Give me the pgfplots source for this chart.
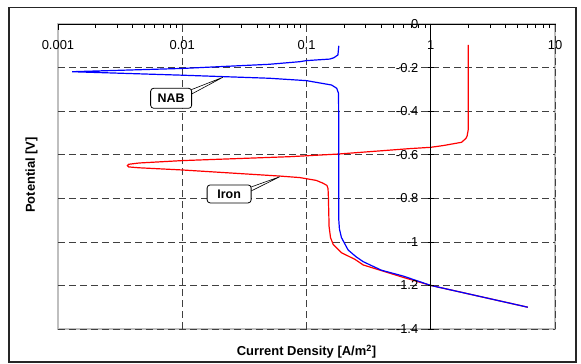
\documentclass[border=0pt]{standalone}
\usepackage{pgfplots}
\pgfplotsset{compat=1.18}
\usepackage{fontspec}
\setmainfont{Liberation Sans}

\definecolor{gridgray}{gray}{0.25}

% Polarisation curves (potential vs. log current density)
\pgfplotstableread{
x y
0.182 -0.100
0.179 -0.142
0.166 -0.155
0.154 -0.161
0.100 -0.168
0.0885 -0.173
0.050 -0.185
0.010 -0.204
0.0013 -0.219
0.010 -0.235
0.050 -0.249
0.100 -0.260
0.159 -0.280
0.175 -0.295
0.181 -0.318
0.182 -0.500
0.182 -0.700
0.182 -0.900
0.184 -0.940
0.191 -0.980
0.216 -1.037
0.250 -1.068
0.286 -1.091
0.400 -1.130
0.600 -1.157
1.000 -1.200
2.000 -1.2385
6.040 -1.300
}\nabdata

\pgfplotstableread{
x y
2.00 -0.096
2.00 -0.487
1.96 -0.515
1.92 -0.525
1.77 -0.543
1.26 -0.558
1.00 -0.566
0.679 -0.572
0.179 -0.597
0.0735 -0.609
0.010 -0.627
0.0045 -0.638
0.0037 -0.644
0.00362 -0.650
0.0037 -0.656
0.0045 -0.660
0.010 -0.670
0.061 -0.698
0.0885 -0.705
0.120 -0.718
0.136 -0.731
0.146 -0.741
0.149 -0.755
0.150 -0.793
0.152 -0.930
0.156 -0.980
0.164 -1.012
0.191 -1.050
0.245 -1.080
0.286 -1.106
0.600 -1.163
1.000 -1.200
2.000 -1.2385
6.040 -1.300
}\irondata

\begin{document}
\begin{tikzpicture}[x=1bp,y=1bp]
\useasboundingbox (0,0) rectangle (581,363);
\draw[line width=1.5bp, black!85] (9,1) rectangle (576,355.3);

% potential axis title
\node[rotate=90, anchor=center, font=\bfseries\fontsize{13}{15}\selectfont]
  at (31.5,188) {Potential [V]};

% light frame of the plot area
\begin{axis}[
  at={(58bp,34bp)}, anchor=south west,
  scale only axis, width=497bp, height=305bp,
  xmode=log, xmin=0.001, xmax=10, ymin=-1.4, ymax=0,
  axis line style={gray!50, line width=1.2bp},
  xtick=\empty, ytick=\empty,
]
\end{axis}

% grid, top axis, curves and callouts
\begin{axis}[
  at={(58bp,34bp)}, anchor=south west,
  scale only axis, width=497bp, height=305bp,
  xmode=log, xmin=0.001, xmax=10, ymin=-1.4, ymax=0,
  axis x line*=top, axis y line*=left,
  x axis line style={black, line width=0.9bp, -},
  y axis line style={draw=none, -},
  xtick={0.001,0.01,0.1,1,10},
  xticklabels={0.001,0.01,0.1,1,10},
  extra x ticks={0.01,0.1,10},
  extra x tick labels={},
  extra x tick style={grid=major, major tick length=0pt},
  tick align=inside,
  major tick length=6bp, minor tick length=4bp,
  x tick style={black, line width=0.7bp},
  xticklabel style={anchor=north, yshift=-13.4bp, font=\fontsize{13}{15}\selectfont},
  ytick={-1.4,-1.2,-1,-0.8,-0.6,-0.4,-0.2,0},
  yticklabels={},
  ytick style={draw=none},
  ymajorgrids,
  major grid style={gridgray, dash pattern=on 7bp off 4bp, line width=0.7bp},
  xlabel={Current Density [A/m\textsuperscript{2}]},
  xlabel style={at={(rel axis cs:0.5,0)}, anchor=center, yshift=-23bp,
    font=\bfseries\fontsize{13}{15}\selectfont},
  clip=false,
]
\addplot[red, line width=1.2bp, no markers] table[x=x, y=y] {\irondata};
\addplot[blue, line width=1.2bp, no markers] table[x=x, y=y] {\nabdata};

% callout: NAB
\draw[black, fill=white, line width=0.6bp]
  (axis cs:0.01112,-0.3075) -- (axis cs:0.0212,-0.2447) -- (axis cs:0.01112,-0.3305);
\node[draw=black, fill=white, rounded corners=3bp, line width=0.8bp,
  minimum width=41bp, minimum height=20bp, inner sep=0pt,
  font=\bfseries\fontsize{12.5}{14}\selectfont] at (axis cs:0.00814,-0.341) {NAB};

% callout: Iron
\draw[black, fill=white, line width=0.6bp]
  (axis cs:0.03315,-0.755) -- (axis cs:0.061,-0.701) -- (axis cs:0.03315,-0.776);
\node[draw=black, fill=white, rounded corners=3bp, line width=0.8bp,
  minimum width=44bp, minimum height=18bp, inner sep=0pt,
  font=\bfseries\fontsize{12.5}{14}\selectfont] at (axis cs:0.02384,-0.780) {Iron};
\end{axis}

% potential axis crossing at 1 A/m^2
\begin{axis}[
  at={(58bp,34bp)}, anchor=south west,
  scale only axis, width=497bp, height=305bp,
  xmode=log, xmin=0.001, xmax=10, ymin=-1.4, ymax=0,
  axis x line=none, axis y line=center,
  y axis line style={black, line width=0.9bp, -},
  ytick={-1.4,-1.2,-1,-0.8,-0.6,-0.4,-0.2,0},
  yticklabels={-1.4,-1.2,-1,-0.8,-0.6,-0.4,-0.2,0},
  ytick style={black, line width=0.7bp},
  major tick length=6bp,
  yticklabel style={anchor=east, xshift=-6bp, font=\fontsize{13}{15}\selectfont},
]
\end{axis}
\end{tikzpicture}
\end{document}
